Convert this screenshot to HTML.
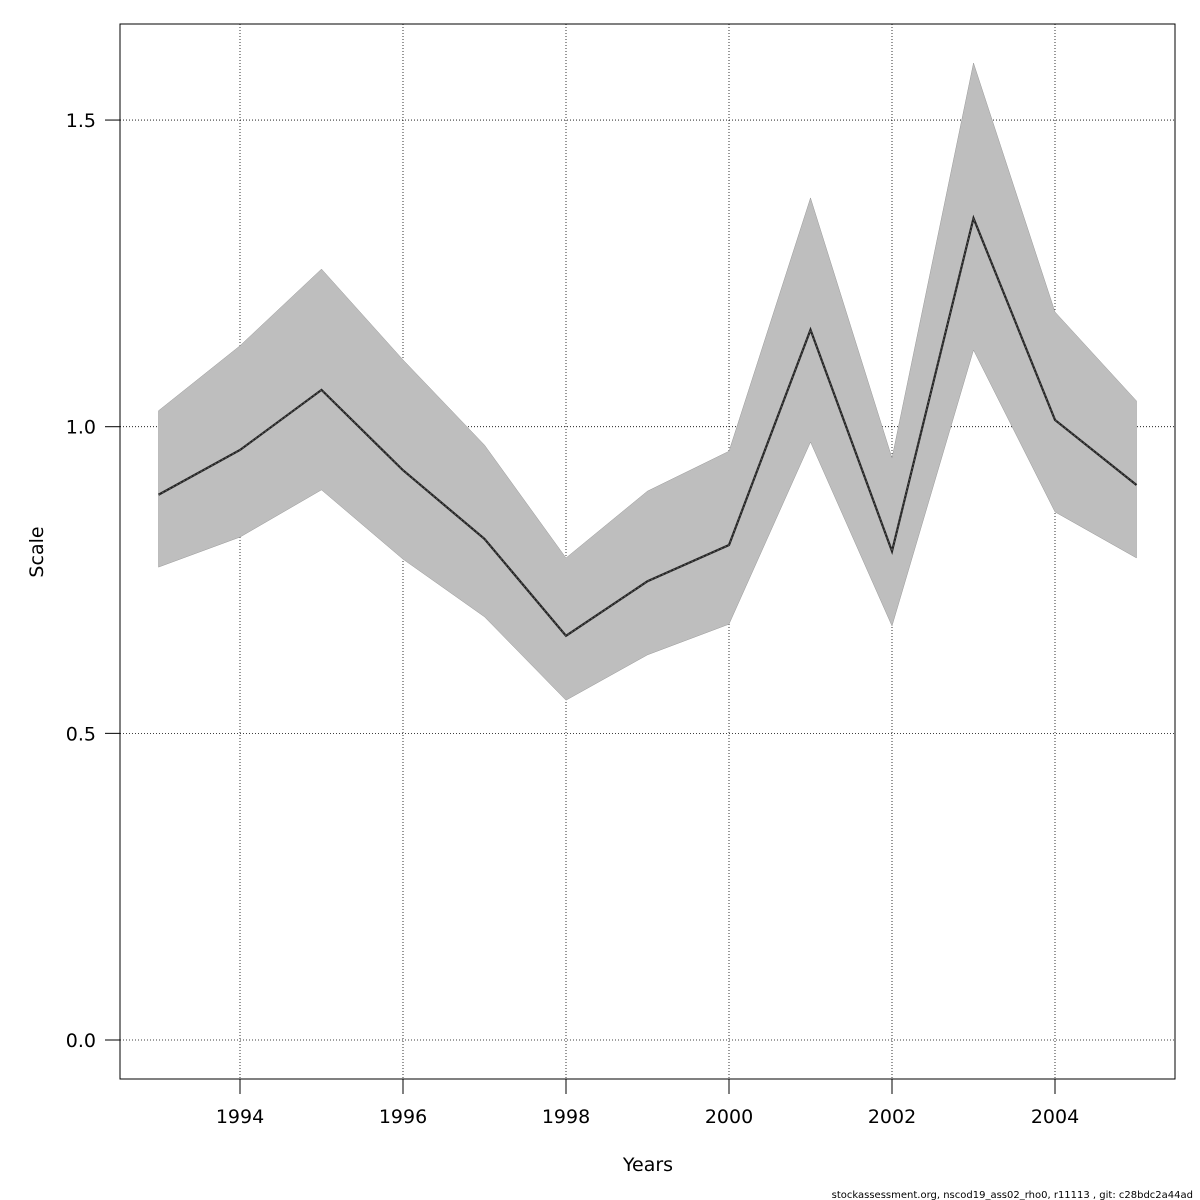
<!DOCTYPE html>
<html><head><meta charset="utf-8"><style>
html,body{margin:0;padding:0;background:#fff;}
svg{display:block;font-family:"DejaVu Sans","Liberation Sans",sans-serif;}
</style></head><body>
<svg id="chart" width="1200" height="1200" viewBox="0 0 1200 1200">
<rect x="0" y="0" width="1200" height="1200" fill="#fff"/>
<g id="grid"></g>
<g id="band"></g>
<g id="line"></g>
<rect x="120" y="24" width="1055" height="1055" fill="none" stroke="#000" stroke-width="1"/>
<g id="axes"></g>
<text x="648" y="1171" font-size="19" text-anchor="middle">Years</text>
<text x="43" y="552" font-size="19" text-anchor="middle" transform="rotate(-90 43 552)">Scale</text>
<text x="1193" y="1198" font-size="10" text-anchor="end">stockassessment.org, nscod19_ass02_rho0, r11113 , git: c28bdc2a44ad</text>
</svg>
<script>
const years = [1993,1994,1995,1996,1997,1998,1999,2000,2001,2002,2003,2004,2005];
const estimate = [0.889,0.962,1.060,0.929,0.817,0.659,0.748,0.807,1.158,0.797,1.340,1.011,0.905];
const upper = [1.026,1.132,1.257,1.109,0.970,0.786,0.895,0.960,1.373,0.949,1.593,1.187,1.042];
const lower = [0.771,0.820,0.897,0.784,0.690,0.554,0.628,0.678,0.975,0.675,1.125,0.861,0.786];
const xTicks = [1994,1996,1998,2000,2002,2004];
const yTicks = [0.0,0.5,1.0,1.5];
const yTickLabels = ["0.0","0.5","1.0","1.5"];

const NS = "http://www.w3.org/2000/svg";
function x(v){ return 158.5 + (v-1993)*81.5; }
function y(v){ return 1040 - v*613.3; }
function mk(tag, attrs, parent){
  const e = document.createElementNS(NS, tag);
  for (const k in attrs) e.setAttribute(k, attrs[k]);
  parent.appendChild(e); return e;
}
const grid = document.getElementById('grid');
const axes = document.getElementById('axes');
xTicks.forEach(t=>{
  const g = mk('line',{x1:x(t),x2:x(t),y1:24,y2:1079,stroke:'#000','stroke-width':0.8,'stroke-dasharray':'1,2'},grid);
  
  
  const tk = mk('line',{x1:x(t),x2:x(t),y1:1079,y2:1094,stroke:'#000'},axes);
  
  
  const lb = mk('text',{x:x(t),y:1123,'font-size':19,'text-anchor':'middle'},axes);
  lb.textContent = t;
  
  
});
yTicks.forEach((t,i)=>{
  const g = mk('line',{x1:120,x2:1175,y1:y(t),y2:y(t),stroke:'#000','stroke-width':0.8,'stroke-dasharray':'1,2'},grid);
  
  
  const tk = mk('line',{x1:105,x2:120,y1:y(t),y2:y(t),stroke:'#000'},axes);
  
  
  const lb = mk('text',{x:96,y:y(t)+7,'font-size':19,'text-anchor':'end'},axes);
  lb.textContent = yTickLabels[i];
  
  
});
let pts = years.map((yr,i)=>x(yr)+','+y(upper[i]));
for (let i=years.length-1;i>=0;i--) pts.push(x(years[i])+','+y(lower[i]));
const band = mk('polygon',{points:pts.join(' '),fill:'#bebebe',stroke:'#999','stroke-width':0.5},document.getElementById('band'));


const lp = years.map((yr,i)=>x(yr)+','+y(estimate[i])).join(' ');
const ln = mk('polyline',{points:lp,fill:'none',stroke:'#222','stroke-width':2.2},document.getElementById('line'));


const ln2 = mk('polyline',{points:lp,fill:'none',stroke:'#555','stroke-width':1,'stroke-dasharray':'2,2'},document.getElementById('line'));


</script>
</body></html>
